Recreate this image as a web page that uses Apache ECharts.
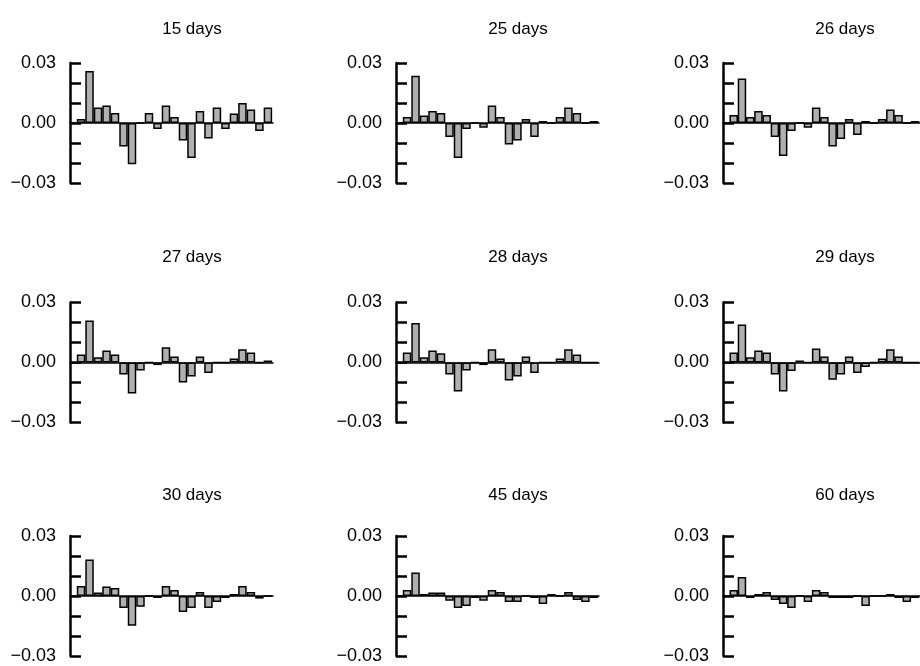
<!DOCTYPE html>
<html>
<head>
<meta charset="utf-8">
<script src="https://cdn.jsdelivr.net/npm/echarts@6/dist/echarts.min.js"></script>
<style>
html,body{margin:0;padding:0;background:#fff;}
#chart{width:920px;height:666px;}
</style>
</head>
<body>
<div id="chart"></div>
<script>
// ---- data ----
const lags = [1,2,3,4,5,6,7,8,9,10,11,12,13,14,15,16,17,18,19,20,21,22,23];
const panelTitles = ["15 days","25 days","26 days","27 days","28 days","29 days","30 days","45 days","60 days"];
const yTickLabels = ["0.03","0.00","\u22120.03"];

const days15 = [0.002,0.026,0.0078,0.0088,0.005,-0.0118,-0.0206,0,0.005,-0.003,0.0088,0.003,-0.0088,-0.0175,0.006,-0.0078,0.0078,-0.003,0.0047,0.010,0.0067,-0.004,0.0078];
const days25 = [0.003,0.0236,0.0037,0.006,0.005,-0.007,-0.0175,-0.003,0,-0.0024,0.0088,0.003,-0.0108,-0.0088,0.002,-0.007,0.001,0,0.003,0.0078,0.005,0,0.001];
const days26 = [0.004,0.0223,0.003,0.006,0.004,-0.007,-0.0165,-0.004,0,-0.0024,0.0078,0.003,-0.0118,-0.008,0.002,-0.006,0.001,0,0.002,0.0067,0.004,0,0.001];
const days27 = [0.004,0.021,0.0026,0.006,0.004,-0.006,-0.0155,-0.004,0,-0.0013,0.0076,0.003,-0.010,-0.007,0.003,-0.0053,0,0,0.002,0.0066,0.005,0,0.001];
const days28 = [0.005,0.0198,0.0026,0.006,0.0046,-0.006,-0.0145,-0.004,0,-0.0013,0.0066,0.002,-0.009,-0.007,0.003,-0.0053,0,0,0.002,0.0066,0.004,0,0];
const days29 = [0.005,0.019,0.0026,0.006,0.005,-0.006,-0.0145,-0.0043,0.001,0,0.007,0.003,-0.0086,-0.006,0.003,-0.0053,-0.0023,0,0.002,0.0066,0.003,0,0];
const days30 = [0.005,0.0183,0.0017,0.0047,0.004,-0.006,-0.0149,-0.0054,0,-0.001,0.005,0.003,-0.008,-0.006,0.002,-0.006,-0.003,-0.001,0.001,0.005,0.002,-0.0013,0];
const days45 = [0.003,0.0118,0.001,0.0017,0.0017,-0.0024,-0.006,-0.005,-0.001,-0.0024,0.003,0.002,-0.003,-0.003,0,-0.001,-0.004,0.001,0,0.002,-0.002,-0.003,-0.001];
const days60 = [0.003,0.0095,-0.001,0.001,0.002,-0.002,-0.004,-0.006,0,-0.003,0.003,0.002,-0.001,-0.001,-0.001,0,-0.005,0,0,0.001,-0.001,-0.003,-0.001];

const panelValues = [days15,days25,days26,days27,days28,days29,days30,days45,days60];

// ---- layout ----
const colLeft = [70, 396, 723];
const rowTop = [63, 302.5, 536];
const gridW = 203, gridH = 120;
const titleY = [29, 257, 495];
const xMin = -0.3, xMax = 23.6;
const barW = gridW / (xMax - xMin);
const FONT = 'Liberation Sans, Arial, Helvetica, sans-serif';

const grids = [], xAxes = [], yAxes = [], series = [], graphics = [];
panelValues.forEach((vals, i) => {
  const r = Math.floor(i / 3), c = i % 3;
  grids.push({left: colLeft[c], top: rowTop[r], width: gridW, height: gridH, containLabel: false});
  xAxes.push({
    type: 'value', gridIndex: i, min: xMin, max: xMax,
    axisLine: {show: true, onZero: true, lineStyle: {color: '#000', width: 1.5}},
    axisTick: {show: false}, axisLabel: {show: false}, splitLine: {show: false}
  });
  yAxes.push({
    type: 'value', gridIndex: i, min: -0.03, max: 0.03, interval: 0.01,
    axisLine: {show: true, onZero: false, lineStyle: {color: '#000', width: 2.5}},
    axisTick: {show: true, inside: true, length: 11, lineStyle: {color: '#000', width: 2.5}},
    splitLine: {show: false},
    axisLabel: {
      show: true, margin: 14, color: '#000', fontSize: 18, fontFamily: FONT,
      formatter: v => {
        const k = Math.round(v * 100);
        if (k === 3) return yTickLabels[0];
        if (k === 0) return yTickLabels[1];
        if (k === -3) return yTickLabels[2];
        return '';
      }
    }
  });
  series.push({
    type: 'bar', xAxisIndex: i, yAxisIndex: i,
    data: lags.map((l, j) => [l, vals[j]]),
    barWidth: barW,
    itemStyle: {color: '#b0b0b0', borderColor: '#000', borderWidth: 1.5},
    silent: true, animation: false
  });
  graphics.push({
    type: 'text', x: colLeft[c] + 122, y: titleY[r],
    style: {text: panelTitles[i], fill: '#000', font: '17px ' + FONT, textAlign: 'center', textVerticalAlign: 'middle'}
  });
});

const chart = echarts.init(document.getElementById('chart'), null, {renderer: 'canvas'});
chart.setOption({
  animation: false,
  backgroundColor: '#fff',
  grid: grids, xAxis: xAxes, yAxis: yAxes, series: series,
  graphic: graphics
});
</script>
</body>
</html>
